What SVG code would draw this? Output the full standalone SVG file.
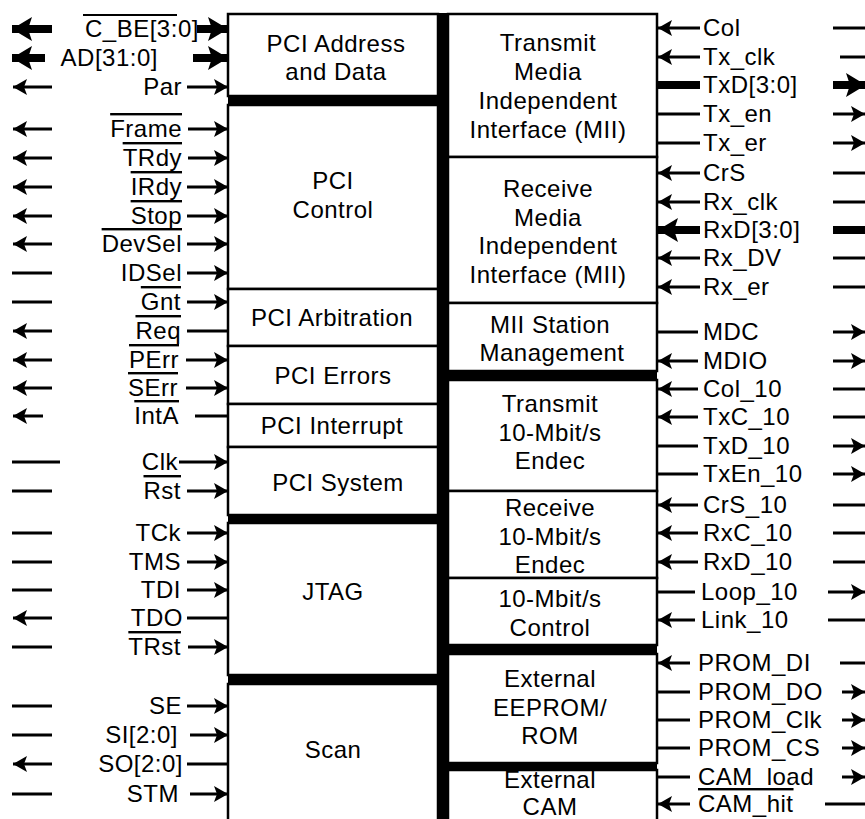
<svg xmlns="http://www.w3.org/2000/svg" width="865" height="819" viewBox="0 0 865 819">
<style>
text{font-family:"Liberation Sans",Arial,sans-serif;font-size:24px;letter-spacing:0.5px;fill:#000}
.box{fill:#fff;stroke:#000;stroke-width:2.5}
.c{text-anchor:middle}
.e{text-anchor:end}
.ov{text-decoration:overline}
.w{fill:none;stroke:#000;stroke-width:3}
.W{fill:none;stroke:#000;stroke-width:8}
.ar{marker-end:url(#a)}
.AR{marker-end:url(#A)}
</style>
<defs>
<marker id="a" markerUnits="userSpaceOnUse" viewBox="0 0 14 16" markerWidth="14" markerHeight="16" refX="14" refY="8" orient="auto"><path d="M0,0 L14,8 L0,16 L3,8 z" fill="#000"/></marker>
<marker id="A" markerUnits="userSpaceOnUse" viewBox="0 0 20 24" markerWidth="20" markerHeight="24" refX="20" refY="12" orient="auto"><path d="M0,0 L20,12 L0,24 L4,12 z" fill="#000"/></marker>
</defs>
<rect width="865" height="819" fill="#fff"/>

<g id="n-pci-ad"><rect class="box" x="228" y="14" width="210" height="82"/><text class="c" x="336" y="52">PCI Address</text><text class="c" x="336" y="80">and Data</text></g>
<g id="n-pci-ctrl"><rect class="box" x="228" y="105" width="210" height="184"/><text class="c" x="333" y="189">PCI</text><text class="c" x="333" y="218">Control</text></g>
<g id="n-pci-arb"><rect class="box" x="228" y="289" width="210" height="57"/><text class="c" x="332" y="326">PCI Arbitration</text></g>
<g id="n-pci-err"><rect class="box" x="228" y="346" width="210" height="58"/><text class="c" x="333" y="384">PCI Errors</text></g>
<g id="n-pci-int"><rect class="box" x="228" y="404" width="210" height="43"/><text class="c" x="332" y="434">PCI Interrupt</text></g>
<g id="n-pci-sys"><rect class="box" x="228" y="447" width="210" height="68"/><text class="c" x="338" y="491">PCI System</text></g>
<g id="n-jtag"><rect class="box" x="228" y="523" width="210" height="152"/><text class="c" x="333" y="600">JTAG</text></g>
<g id="n-scan"><rect class="box" x="228" y="684" width="210" height="150"/><text class="c" x="333" y="758">Scan</text></g>

<g id="n-tx-mii"><rect class="box" x="448" y="14" width="209" height="143"/><text class="c" x="548" y="51">Transmit</text><text class="c" x="548" y="80">Media</text><text class="c" x="548" y="109">Independent</text><text class="c" x="548" y="138">Interface (MII)</text></g>
<g id="n-rx-mii"><rect class="box" x="448" y="157" width="209" height="146"/><text class="c" x="548" y="197">Receive</text><text class="c" x="548" y="226">Media</text><text class="c" x="548" y="254">Independent</text><text class="c" x="548" y="283">Interface (MII)</text></g>
<g id="n-mii-sta"><rect class="box" x="448" y="303" width="209" height="68"/><text class="c" x="550" y="333">MII Station</text><text class="c" x="552" y="361">Management</text></g>
<g id="n-tx10"><rect class="box" x="448" y="380" width="209" height="111"/><text class="c" x="550" y="412">Transmit</text><text class="c" x="550" y="441">10-Mbit/s</text><text class="c" x="550" y="469">Endec</text></g>
<g id="n-rx10"><rect class="box" x="448" y="491" width="209" height="87"/><text class="c" x="550" y="516">Receive</text><text class="c" x="550" y="545">10-Mbit/s</text><text class="c" x="550" y="573">Endec</text></g>
<g id="n-ctl10"><rect class="box" x="448" y="578" width="209" height="67"/><text class="c" x="550" y="607">10-Mbit/s</text><text class="c" x="550" y="636">Control</text></g>
<g id="n-eeprom"><rect class="box" x="448" y="654" width="209" height="109"/><text class="c" x="550" y="687">External</text><text class="c" x="550" y="716">EEPROM/</text><text class="c" x="550" y="744">ROM</text></g>
<g id="n-cam"><rect class="box" x="448" y="770" width="209" height="64"/><text class="c" x="550" y="788">External</text><text class="c" x="550" y="815">CAM</text></g>

<g id="frame" fill="#000">
<rect x="438" y="13" width="10" height="806"/>
<rect x="228" y="96" width="210" height="9"/>
<rect x="228" y="515" width="210" height="8"/>
<rect x="228" y="675" width="210" height="9"/>
<rect x="448" y="371" width="209" height="9"/>
<rect x="448" y="645" width="209" height="9"/>
<rect x="448" y="763" width="209" height="7"/>
</g>

<g id="signal-labels">
<text x="85" y="37">C_BE[3:0]</text>
<line x1="83" y1="15" x2="177" y2="15" stroke="#000" stroke-width="2"/>
<text class="e" x="158" y="66">AD[31:0]</text>
<text class="e" x="182" y="95">Par</text>
<text class="e ov" x="182" y="137">Frame</text>
<text class="e ov" x="182" y="166">TRdy</text>
<text class="e ov" x="182" y="195">IRdy</text>
<text class="e ov" x="182" y="224">Stop</text>
<text class="e ov" x="182" y="252">DevSel</text>
<text class="e" x="182" y="281">IDSel</text>
<text class="e ov" x="181" y="310">Gnt</text>
<text class="e ov" x="181" y="339">Req</text>
<text class="e ov" x="179" y="368">PErr</text>
<text class="e ov" x="178" y="396">SErr</text>
<text class="e ov" x="179" y="424">IntA</text>
<text class="e" x="178" y="470">Clk</text>
<text class="e ov" x="181" y="499">Rst</text>
<text class="e" x="181" y="541">TCk</text>
<text class="e" x="181" y="570">TMS</text>
<text class="e" x="181" y="598">TDI</text>
<text class="e" x="183" y="626">TDO</text>
<text class="e ov" x="181" y="655">TRst</text>
<text class="e" x="182" y="714">SE</text>
<text class="e" x="178" y="743">SI[2:0]</text>
<text class="e" x="183" y="772">SO[2:0]</text>
<text class="e" x="179" y="802">STM</text>

<text x="703" y="36">Col</text>
<text x="703" y="65">Tx_clk</text>
<text x="703" y="93">TxD[3:0]</text>
<text x="703" y="122">Tx_en</text>
<text x="703" y="151">Tx_er</text>
<text x="703" y="181">CrS</text>
<text x="703" y="210">Rx_clk</text>
<text x="703" y="238">RxD[3:0]</text>
<text x="703" y="266">Rx_DV</text>
<text x="703" y="295">Rx_er</text>
<text x="703" y="340">MDC</text>
<text x="703" y="369">MDIO</text>
<text x="703" y="397">Col_10</text>
<text x="703" y="425">TxC_10</text>
<text x="703" y="454">TxD_10</text>
<text x="703" y="482">TxEn_10</text>
<text x="703" y="513">CrS_10</text>
<text x="703" y="541">RxC_10</text>
<text x="703" y="570">RxD_10</text>
<text x="701" y="600">Loop_10</text>
<text x="701" y="628">Link_10</text>
<text x="698" y="671">PROM_DI</text>
<text x="698" y="700">PROM_DO</text>
<text x="698" y="728">PROM_Clk</text>
<text x="698" y="756">PROM_CS</text>
<text x="698" y="785">CAM_load</text>
<text class="ov" x="698" y="812">CAM_hit</text>
</g>

<g id="connectors">
<path class="W AR" d="M52,29 H12"/>
<path class="W AR" d="M197,29 H228"/>
<path class="W AR" d="M45,58 H12"/>
<path class="W AR" d="M193,58 H228"/>
<path class="w ar" d="M52,87 H13"/><path class="w ar" d="M187,87 H228"/>
<path class="w ar" d="M52,129 H13"/><path class="w ar" d="M188,129 H228"/>
<path class="w ar" d="M52,158 H13"/><path class="w ar" d="M188,158 H228"/>
<path class="w ar" d="M52,187 H13"/><path class="w ar" d="M187,187 H228"/>
<path class="w ar" d="M52,216 H13"/><path class="w ar" d="M187,216 H228"/>
<path class="w ar" d="M52,244 H13"/><path class="w ar" d="M187,244 H228"/>
<path class="w" d="M12,273 H52"/><path class="w ar" d="M187,273 H228"/>
<path class="w" d="M12,302 H52"/><path class="w ar" d="M187,302 H228"/>
<path class="w ar" d="M52,331 H13"/><path class="w" d="M187,331 H228"/>
<path class="w ar" d="M52,360 H13"/><path class="w ar" d="M186,360 H228"/>
<path class="w ar" d="M52,388 H13"/><path class="w ar" d="M186,388 H228"/>
<path class="w ar" d="M43,416 H13"/><path class="w" d="M195,416 H228"/>
<path class="w" d="M12,462 H60"/><path class="w ar" d="M179,462 H228"/>
<path class="w" d="M12,491 H52"/><path class="w ar" d="M187,491 H228"/>
<path class="w" d="M12,533 H52"/><path class="w ar" d="M187,533 H228"/>
<path class="w" d="M12,562 H52"/><path class="w ar" d="M187,562 H228"/>
<path class="w" d="M12,590 H52"/><path class="w ar" d="M187,590 H228"/>
<path class="w ar" d="M52,618 H13"/><path class="w" d="M187,618 H228"/>
<path class="w" d="M12,647 H52"/><path class="w ar" d="M188,647 H228"/>
<path class="w" d="M12,706 H52"/><path class="w ar" d="M187,706 H228"/>
<path class="w" d="M12,735 H52"/><path class="w ar" d="M190,735 H228"/>
<path class="w ar" d="M52,764 H13"/><path class="w" d="M187,764 H228"/>
<path class="w" d="M12,794 H52"/><path class="w ar" d="M190,794 H228"/>

<path class="w ar" d="M700,28 H658"/><path class="w" d="M833,28 H865"/>
<path class="w ar" d="M700,57 H658"/><path class="w" d="M840,57 H865"/>
<path class="W" d="M658,85 H700"/><path class="W AR" d="M833,85 H866"/>
<path class="w" d="M658,114 H700"/><path class="w ar" d="M833,114 H865"/>
<path class="w" d="M658,143 H700"/><path class="w ar" d="M833,143 H865"/>
<path class="w ar" d="M700,173 H658"/><path class="w" d="M833,173 H865"/>
<path class="w ar" d="M700,202 H658"/><path class="w" d="M833,202 H865"/>
<path class="W AR" d="M700,230 H658"/><path class="W" d="M833,230 H865"/>
<path class="w ar" d="M700,258 H658"/><path class="w" d="M833,258 H865"/>
<path class="w ar" d="M700,287 H658"/><path class="w" d="M833,287 H865"/>
<path class="w" d="M658,332 H698"/><path class="w ar" d="M833,332 H865"/>
<path class="w ar" d="M698,361 H658"/><path class="w ar" d="M833,361 H865"/>
<path class="w ar" d="M698,389 H658"/><path class="w" d="M833,389 H865"/>
<path class="w ar" d="M698,417 H658"/><path class="w" d="M833,417 H865"/>
<path class="w" d="M658,446 H698"/><path class="w ar" d="M833,446 H865"/>
<path class="w" d="M658,474 H698"/><path class="w ar" d="M833,474 H865"/>
<path class="w ar" d="M698,505 H658"/><path class="w" d="M833,505 H865"/>
<path class="w ar" d="M698,533 H658"/><path class="w" d="M833,533 H865"/>
<path class="w ar" d="M698,562 H658"/><path class="w" d="M833,562 H865"/>
<path class="w" d="M658,592 H695"/><path class="w ar" d="M828,592 H865"/>
<path class="w ar" d="M695,620 H658"/><path class="w" d="M828,620 H865"/>
<path class="w ar" d="M690,663 H658"/><path class="w" d="M840,663 H865"/>
<path class="w" d="M658,692 H690"/><path class="w ar" d="M842,692 H865"/>
<path class="w" d="M658,720 H690"/><path class="w ar" d="M842,720 H865"/>
<path class="w" d="M658,748 H690"/><path class="w ar" d="M842,748 H865"/>
<path class="w" d="M658,777 H690"/><path class="w ar" d="M842,777 H865"/>
<path class="w ar" d="M690,804 H658"/><path class="w" d="M825,804 H865"/>
</g>
</svg>
